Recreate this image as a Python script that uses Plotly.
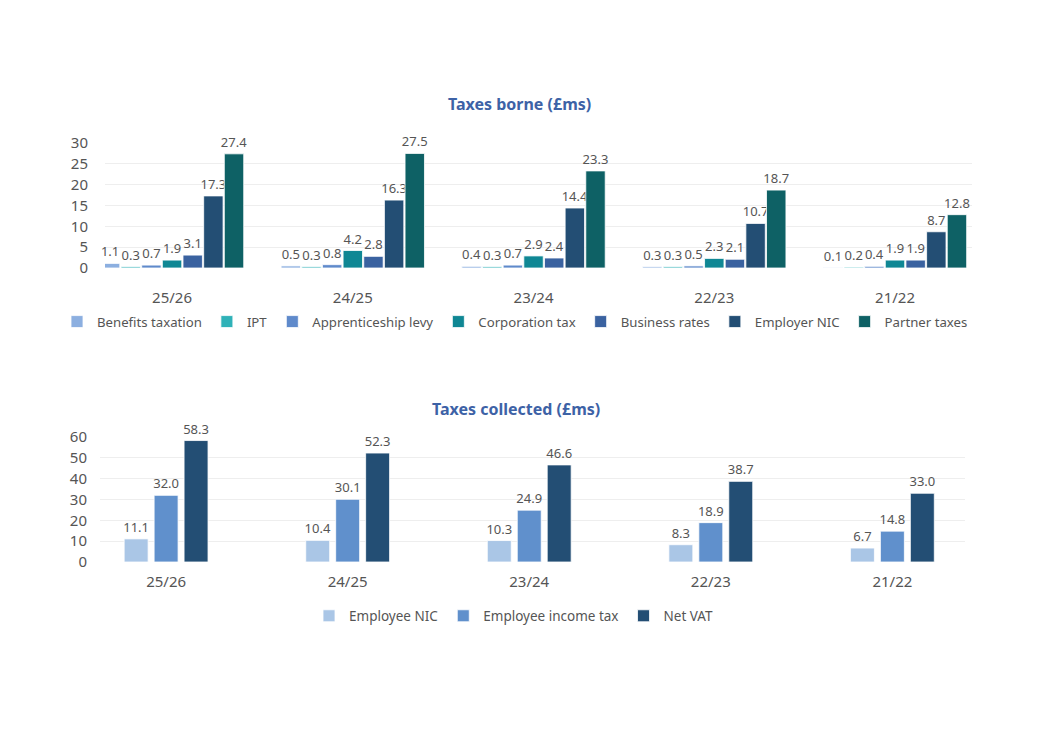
import plotly.graph_objects as go

# Data
years = ["25/26", "24/25", "23/24", "22/23", "21/22"]

borne_names = ["Benefits taxation", "IPT", "Apprenticeship levy", "Corporation tax",
               "Business rates", "Employer NIC", "Partner taxes"]
benefits_taxation = [1.1, 0.5, 0.4, 0.3, 0.1]
ipt = [0.3, 0.3, 0.3, 0.3, 0.2]
apprenticeship_levy = [0.7, 0.8, 0.7, 0.5, 0.4]
corporation_tax = [1.9, 4.2, 2.9, 2.3, 1.9]
business_rates = [3.1, 2.8, 2.4, 2.1, 1.9]
employer_nic = [17.3, 16.3, 14.4, 10.7, 8.7]
partner_taxes = [27.4, 27.5, 23.3, 18.7, 12.8]

collected_names = ["Employee NIC", "Employee income tax", "Net VAT"]
employee_nic = [11.1, 10.4, 10.3, 8.3, 6.7]
employee_income_tax = [32.0, 30.1, 24.9, 18.9, 14.8]
net_vat = [58.3, 52.3, 46.6, 38.7, 33.0]

borne_colors = ["#8cafe0", "#2fb2b8", "#5f8acb", "#0f8794", "#3a62a0", "#234e74", "#0e6165"]
collected_colors = ["#aac6e6", "#6090cc", "#234e74"]

FONT = "Noto Sans"
TEXT = "#555555"
TITLE_BLUE = "#3d62a6"

W, H = 1039.0, 735.0
PAD = 8  # the page body adds an 8px margin


def fx(px):
    return (px - PAD) / W


def fy(px):
    return 1 - (px - PAD) / H


fig = go.Figure()

# top chart: 7 grouped series
borne_series = [benefits_taxation, ipt, apprenticeship_levy, corporation_tax,
                business_rates, employer_nic, partner_taxes]
for name, vals, col in zip(borne_names, borne_series, borne_colors):
    fig.add_trace(go.Bar(
        x=years, y=vals, name=name, marker_color=col,
        marker_line=dict(color="white", width=0.8),
        text=[f"{v:.1f}" for v in vals], textposition="outside",
        textfont=dict(size=13, color=TEXT, family=FONT),
        constraintext="none", cliponaxis=False,
        xaxis="x", yaxis="y", legend="legend",
    ))

# bottom chart: 3 narrow bars per year
collected_series = [employee_nic, employee_income_tax, net_vat]
bw = 0.132
slot = 0.165
for i, (name, vals, col) in enumerate(zip(collected_names, collected_series, collected_colors)):
    fig.add_trace(go.Bar(
        x=years, y=vals, name=name, marker_color=col,
        marker_line=dict(color="white", width=0.8),
        width=bw, offset=(i - 1) * slot - bw / 2,
        text=[f"{v:.1f}" for v in vals], textposition="outside",
        textfont=dict(size=13, color=TEXT, family=FONT),
        constraintext="none", cliponaxis=False,
        xaxis="x2", yaxis="y2", legend="legend2",
    ))

axis_font = dict(size=15, color=TEXT, family=FONT)

fig.update_layout(
    width=1039, height=735,
    margin=dict(l=0, r=0, t=0, b=0, autoexpand=False),
    paper_bgcolor="white", plot_bgcolor="white",
    font=dict(family=FONT, color=TEXT),
    barmode="group",
    bargap=0.2, bargroupgap=0.06,
    showlegend=True,
    xaxis=dict(domain=[fx(105), fx(972)], anchor="y", range=[-0.371, 4.426],
               tickfont=axis_font, showgrid=False, ticks="", ticklabelstandoff=19,
               automargin=False),
    yaxis=dict(domain=[fy(268), fy(143)], anchor="x", range=[0, 30], dtick=5,
               tickfont=axis_font, gridcolor="#eeeeee", zeroline=False,
               ticklabelstandoff=16, automargin=False),
    xaxis2=dict(domain=[fx(100), fx(965)], anchor="y2", range=[-0.364, 4.40],
                tickfont=axis_font, showgrid=False, ticks="", ticklabelstandoff=9,
                automargin=False),
    yaxis2=dict(domain=[fy(562), fy(437)], anchor="x2", range=[0, 60], dtick=10,
                tickfont=axis_font, gridcolor="#eeeeee", zeroline=False,
                ticklabelstandoff=12, automargin=False),
    legend=dict(orientation="h", x=fx(57), xanchor="left", y=fy(322), yanchor="middle",
                font=dict(size=13.2, color=TEXT, family=FONT), itemwidth=30,
                traceorder="normal"),
    legend2=dict(orientation="h", x=fx(514), xanchor="center", y=fy(616), yanchor="middle",
                 font=dict(size=13.5, color=TEXT, family=FONT), itemwidth=30,
                 traceorder="normal"),
    annotations=[
        dict(text="<b>Taxes borne (£ms)</b>", x=fx(519), y=fy(104), xref="paper",
             yref="paper", xanchor="center", yanchor="middle", showarrow=False,
             font=dict(size=16, color=TITLE_BLUE, family=FONT)),
        dict(text="<b>Taxes collected (£ms)</b>", x=fx(516), y=fy(409), xref="paper",
             yref="paper", xanchor="center", yanchor="middle", showarrow=False,
             font=dict(size=16, color=TITLE_BLUE, family=FONT)),
    ],
)

fig.write_html("out.html")
